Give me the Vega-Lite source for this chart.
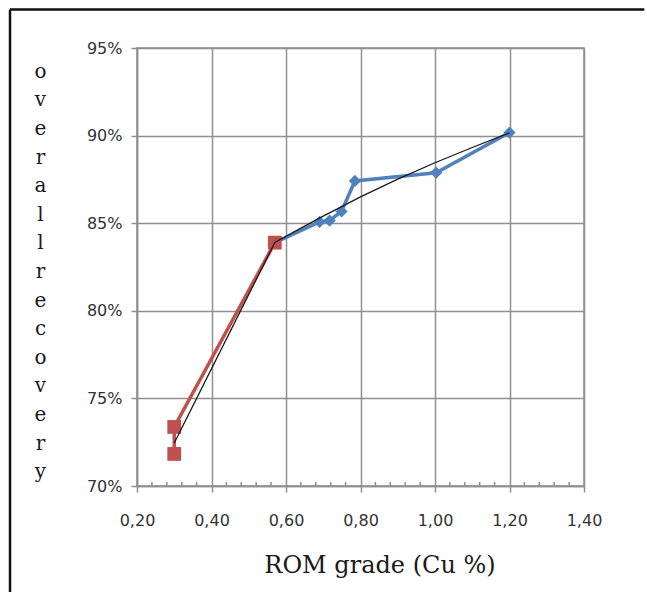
{
  "$schema": "https://vega.github.io/schema/vega-lite/v6.json",
  "autosize": "none",
  "width": 447,
  "height": 438,
  "padding": {"left": 137, "top": 48, "right": 63, "bottom": 110},
  "background": "white",
  "layer": [
    {
      "data": {"values": [{"x0": -0.1409, "y0": 0.972, "y1": 0.6395}]},
      "mark": {"type": "rule", "stroke": "#111111", "strokeWidth": 2.5, "clip": false},
      "encoding": {
        "x": {
          "field": "x0",
          "type": "quantitative",
          "scale": {"domain": [0.2, 1.4], "nice": false, "zero": false},
          "axis": {
            "values": [0.2, 0.4, 0.6, 0.8, 1.0, 1.2, 1.4],
            "labelExpr": "replace(format(datum.value, '.2f'), '.', ',')",
            "labelFlush": false,
            "title": "ROM grade (Cu %)",
            "titleX": 242.5,
            "titleY": 86,
            "titleAlign": "center",
            "titleBaseline": "alphabetic",
            "titleFont": "DejaVu Serif",
            "titleFontSize": 24,
            "titleFontWeight": "normal",
            "titleColor": "#1a1a1a",
            "labelPadding": 20,
            "tickSize": 6
          }
        },
        "y": {
          "field": "y0",
          "type": "quantitative",
          "scale": {"domain": [0.7, 0.95], "nice": false, "zero": false},
          "axis": {
            "values": [0.7, 0.75, 0.8, 0.85, 0.9, 0.95],
            "format": ".0%",
            "labelFlush": false,
            "title": ["o", "v", "e", "r", "a", "l", "l", "r", "e", "c", "o", "v", "e", "r", "y"],
            "titleAngle": 0,
            "titleX": -97,
            "titleY": 29.3,
            "titleAlign": "center",
            "titleBaseline": "alphabetic",
            "titleLineHeight": 28.6,
            "titleFont": "DejaVu Serif",
            "titleFontSize": 20,
            "titleFontWeight": "normal",
            "titleColor": "#1a1a1a",
            "labelPadding": 9,
            "tickSize": 6
          }
        },
        "y2": {"field": "y1"}
      }
    },
    {
      "data": {"values": [{"x0": -0.1409, "x1": 1.562, "y0": 0.972}]},
      "mark": {"type": "rule", "stroke": "#111111", "strokeWidth": 2.5, "clip": false},
      "encoding": {
        "x": {"field": "x0", "type": "quantitative"},
        "x2": {"field": "x1"},
        "y": {"field": "y0", "type": "quantitative"}
      }
    },
    {
      "data": {"values": [
        {"x": 0.24, "y": 0.7}, {"x": 0.28, "y": 0.7}, {"x": 0.32, "y": 0.7}, {"x": 0.36, "y": 0.7},
        {"x": 0.44, "y": 0.7}, {"x": 0.48, "y": 0.7}, {"x": 0.52, "y": 0.7}, {"x": 0.56, "y": 0.7},
        {"x": 0.64, "y": 0.7}, {"x": 0.68, "y": 0.7}, {"x": 0.72, "y": 0.7}, {"x": 0.76, "y": 0.7},
        {"x": 0.84, "y": 0.7}, {"x": 0.88, "y": 0.7}, {"x": 0.92, "y": 0.7}, {"x": 0.96, "y": 0.7},
        {"x": 1.04, "y": 0.7}, {"x": 1.08, "y": 0.7}, {"x": 1.12, "y": 0.7}, {"x": 1.16, "y": 0.7},
        {"x": 1.24, "y": 0.7}, {"x": 1.28, "y": 0.7}, {"x": 1.32, "y": 0.7}, {"x": 1.36, "y": 0.7}
      ]},
      "mark": {"type": "tick", "orient": "vertical", "color": "#8f8f8f", "thickness": 1.5, "size": 4, "yOffset": -2, "opacity": 1},
      "encoding": {
        "x": {"field": "x", "type": "quantitative"},
        "y": {"field": "y", "type": "quantitative"}
      }
    },
    {
      "data": {"values": [
        {"x": 0.57, "y": 0.8389},
        {"x": 0.69, "y": 0.8507},
        {"x": 0.717, "y": 0.8515},
        {"x": 0.749, "y": 0.8567},
        {"x": 0.785, "y": 0.8741},
        {"x": 1.003, "y": 0.8788},
        {"x": 1.2, "y": 0.9017}
      ]},
      "encoding": {
        "x": {"field": "x", "type": "quantitative"},
        "y": {"field": "y", "type": "quantitative"}
      },
      "layer": [
        {"mark": {"type": "line", "color": "#4F81BD", "strokeWidth": 3.5}},
        {"mark": {"type": "point", "shape": "diamond", "filled": true, "color": "#4F81BD", "size": 150, "opacity": 1}}
      ]
    },
    {
      "data": {"values": [
        {"x": 0.3, "y": 0.7183, "o": 1},
        {"x": 0.3, "y": 0.7337, "o": 2},
        {"x": 0.57, "y": 0.8389, "o": 3}
      ]},
      "encoding": {
        "x": {"field": "x", "type": "quantitative"},
        "y": {"field": "y", "type": "quantitative"}
      },
      "layer": [
        {
          "mark": {"type": "line", "color": "#C0504D", "strokeWidth": 3.5},
          "encoding": {"order": {"field": "o", "type": "quantitative"}}
        },
        {"mark": {"type": "point", "shape": "square", "filled": true, "color": "#C0504D", "size": 190, "opacity": 1}}
      ]
    },
    {
      "data": {"values": [
        {"x": 0.3, "y": 0.7245},
        {"x": 0.57, "y": 0.839},
        {"x": 0.64, "y": 0.8472},
        {"x": 0.7, "y": 0.854},
        {"x": 0.8, "y": 0.865},
        {"x": 0.9, "y": 0.8752},
        {"x": 1.0, "y": 0.8845},
        {"x": 1.1, "y": 0.8932},
        {"x": 1.2, "y": 0.9015}
      ]},
      "mark": {"type": "line", "color": "#1a1a1a", "strokeWidth": 1.3},
      "encoding": {
        "x": {"field": "x", "type": "quantitative"},
        "y": {"field": "y", "type": "quantitative"}
      }
    }
  ],
  "config": {
    "view": {"stroke": "#8f8f8f", "strokeWidth": 1.5},
    "axis": {
      "grid": true,
      "gridColor": "#8f8f8f",
      "gridWidth": 1.5,
      "gridOpacity": 1,
      "domainColor": "#8f8f8f",
      "domainWidth": 1.5,
      "tickColor": "#8f8f8f",
      "tickWidth": 1.5,
      "labelFont": "DejaVu Sans",
      "labelFontSize": 16,
      "labelColor": "#333333"
    }
  }
}
